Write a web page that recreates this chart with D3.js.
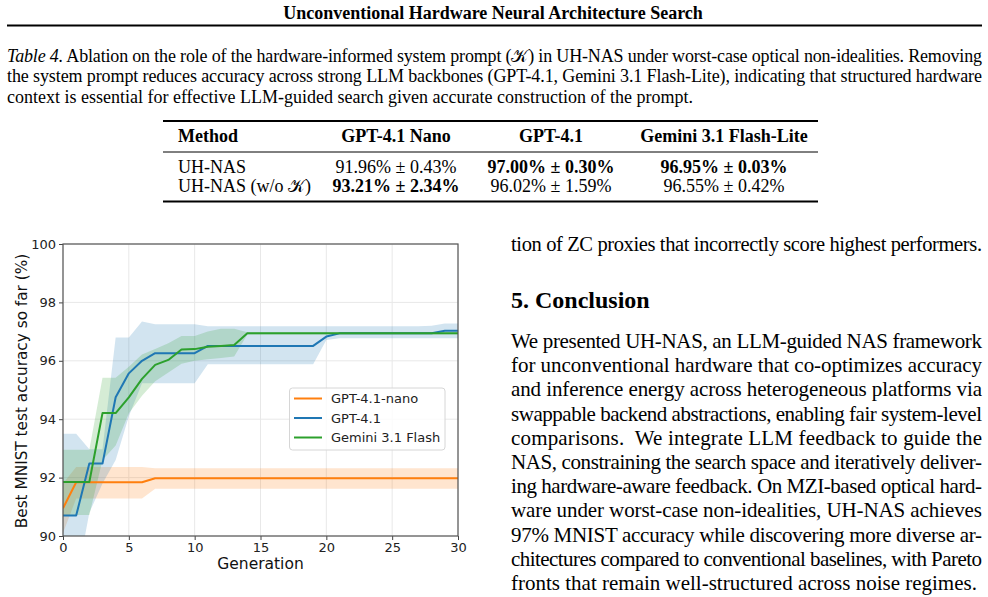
<!DOCTYPE html>
<html>
<head>
<meta charset="utf-8">
<script src="https://cdn.jsdelivr.net/npm/d3@7"></script>
<style>
  body { margin: 0; background: #fff; }
  svg { display: block; }
</style>
</head>
<body>
<script>
'use strict';

// generations on the x axis
const generations = [0,1,2,3,4,5,6,7,8,9,10,11,12,13,14,15,16,17,18,19,20,21,22,23,24,25,26,27,28,29,30];

// GPT-4.1-nano : mean best accuracy and shaded band
const nanoMean  = [90.95,91.84,91.84,91.84,91.84,91.84,91.84,91.98,91.98,91.98,91.98,91.98,91.98,91.98,91.98,91.98,91.98,91.98,91.98,91.98,91.98,91.98,91.98,91.98,91.98,91.98,91.98,91.98,91.98,91.98,91.98];
const nanoLower = [90.10,91.28,91.28,91.28,91.28,91.28,91.28,91.62,91.62,91.62,91.62,91.62,91.62,91.62,91.62,91.62,91.62,91.62,91.62,91.62,91.62,91.62,91.62,91.62,91.62,91.62,91.62,91.62,91.62,91.62,91.62];
const nanoUpper = [91.80,92.36,92.36,92.36,92.36,92.36,92.36,92.32,92.32,92.32,92.32,92.32,92.32,92.32,92.32,92.32,92.32,92.32,92.32,92.32,92.32,92.32,92.32,92.32,92.32,92.32,92.32,92.32,92.32,92.32,92.32];

// GPT-4.1
const gptMean  = [90.70,90.70,92.48,92.48,94.75,95.57,96.00,96.26,96.26,96.26,96.26,96.51,96.51,96.51,96.51,96.51,96.51,96.51,96.51,96.51,96.83,96.94,96.94,96.94,96.94,96.94,96.94,96.94,96.94,97.03,97.03];
const gptLower = [88.40,88.40,90.80,91.80,92.60,94.10,95.23,95.23,95.23,95.23,95.23,95.88,95.88,95.88,95.88,95.88,95.88,95.88,95.88,95.88,96.71,96.77,96.77,96.77,96.77,96.77,96.77,96.77,96.77,96.77,96.77];
const gptUpper = [93.50,93.50,92.97,92.97,96.80,96.80,97.35,97.25,97.25,97.25,97.25,97.18,97.18,97.18,97.18,97.18,97.18,97.18,97.18,97.18,97.18,97.18,97.18,97.18,97.18,97.18,97.18,97.18,97.20,97.28,97.28];

// Gemini 3.1 Flash
const gemMean  = [91.85,91.85,91.85,94.21,94.21,94.75,95.38,95.86,96.03,96.39,96.40,96.48,96.51,96.54,96.94,96.94,96.94,96.94,96.94,96.94,96.94,96.94,96.94,96.94,96.94,96.94,96.94,96.94,96.94,96.94,96.94];
const gemLower = [90.72,90.72,90.72,92.60,93.10,94.20,94.80,95.30,95.60,95.90,96.00,96.05,96.10,96.15,96.90,96.90,96.90,96.90,96.90,96.90,96.90,96.90,96.90,96.90,96.90,96.90,96.90,96.90,96.90,96.90,96.90];
const gemUpper = [92.95,92.95,92.95,95.42,95.42,95.80,96.22,96.40,96.60,96.85,96.85,97.00,97.10,97.10,96.98,96.98,96.98,96.98,96.98,96.98,96.98,96.98,96.98,96.98,96.98,96.98,96.98,96.98,96.98,96.98,96.98];

const seriesNames = ["GPT-4.1-nano", "GPT-4.1", "Gemini 3.1 Flash"];
const xTicks = [0, 5, 10, 15, 20, 25, 30];
const yTicks = [90, 92, 94, 96, 98, 100];

// table contents
const tableHeader = ["Method", "GPT-4.1 Nano", "GPT-4.1", "Gemini 3.1 Flash-Lite"];
const tableRow1 = ["UH-NAS", "91.96% ± 0.43%", "97.00% ± 0.30%", "96.95% ± 0.03%"];
const tableRow2 = ["UH-NAS (w/o 𝒦)", "93.21% ± 2.34%", "96.02% ± 1.59%", "96.55% ± 0.42%"];
const tableBold1 = [false, false, true, true];
const tableBold2 = [false, true, false, false];

// page text
const runningTitle = "Unconventional Hardware Neural Architecture Search";
const captionLines = [
  "Ablation on the role of the hardware-informed system prompt (𝒦) in UH-NAS under worst-case optical non-idealities. Removing",
  "the system prompt reduces accuracy across strong LLM backbones (GPT-4.1, Gemini 3.1 Flash-Lite), indicating that structured hardware",
  "context is essential for effective LLM-guided search given accurate construction of the prompt."
];
const bodyTop = "tion of ZC proxies that incorrectly score highest performers.";
const sectionTitle = "5. Conclusion";
const bodyLines = [
  "We presented UH-NAS, an LLM-guided NAS framework",
  "for unconventional hardware that co-optimizes accuracy",
  "and inference energy across heterogeneous platforms via",
  "swappable backend abstractions, enabling fair system-level",
  "comparisons.  We integrate LLM feedback to guide the",
  "NAS, constraining the search space and iteratively deliver-",
  "ing hardware-aware feedback. On MZI-based optical hard-",
  "ware under worst-case non-idealities, UH-NAS achieves",
  "97% MNIST accuracy while discovering more diverse ar-",
  "chitectures compared to conventional baselines, with Pareto",
  "fronts that remain well-structured across noise regimes."
];

(function() {
  const W = 988, H = 597;
  const serif = "'Liberation Serif', 'Times New Roman', serif";
  const sans = "'DejaVu Sans', sans-serif";

  const svg = d3.select('body').append('svg')
    .attr('width', W)
    .attr('height', H);

  svg.append('rect').attr('width', W).attr('height', H).attr('fill', '#fff');

  drawHeader();
  drawTable();
  drawChart();
  drawRightColumn();

  // running title and rule
  function drawHeader() {
    svg.append('text')
      .attr('x', 493).attr('y', 19)
      .attr('text-anchor', 'middle')
      .style('font-family', serif)
      .style('font-weight', 'bold')
      .style('font-size', '18px')
      .text(runningTitle);

    svg.append('line')
      .attr('x1', 7).attr('x2', 982)
      .attr('y1', 25.5).attr('y2', 25.5)
      .attr('stroke', '#000').attr('stroke-width', 2);

    // caption, justified except last line
    captionLines.forEach((line, i) => {
      let t = svg.append('text')
        .attr('x', 7).attr('y', 62 + i * 20.3)
        .style('font-family', serif)
        .style('font-size', '18px');
      if (i == 0) {
        t.append('tspan').style('font-style', 'italic').text('Table 4.');
        t.append('tspan').text(' ' + line);
      } else {
        t.text(line);
      }
      if (i < captionLines.length - 1) {
        t.attr('textLength', 975).attr('lengthAdjust', 'spacing');
      }
    });
  }

  function drawTable() {
    let colX = [178, 396, 551, 724];
    let left = 163, right = 818;

    svg.append('line').attr('x1', left).attr('x2', right)
      .attr('y1', 121).attr('y2', 121).attr('stroke', '#000').attr('stroke-width', 1.8);
    svg.append('line').attr('x1', left).attr('x2', right)
      .attr('y1', 152).attr('y2', 152).attr('stroke', '#000').attr('stroke-width', 1);
    svg.append('line').attr('x1', left).attr('x2', right)
      .attr('y1', 201.5).attr('y2', 201.5).attr('stroke', '#000').attr('stroke-width', 1.8);

    function row(cells, y, bold) {
      cells.forEach((c, i) => {
        svg.append('text')
          .attr('x', colX[i]).attr('y', y)
          .attr('text-anchor', i == 0 ? 'start' : 'middle')
          .style('font-family', serif)
          .style('font-size', '18px')
          .style('font-weight', bold[i] ? 'bold' : 'normal')
          .text(c);
      });
    }
    row(tableHeader, 142, [true, true, true, true]);
    row(tableRow1, 173, tableBold1);
    row(tableRow2, 192, tableBold2);
  }

  function drawChart() {
    let plot = {left: 63, right: 458, top: 244, bottom: 536};

    let xScale = d3.scaleLinear().domain([0, 30]).range([plot.left, plot.right]);
    let yScale = d3.scaleLinear().domain([90, 100]).range([plot.bottom, plot.top]);

    let g = svg.append('g');

    g.append('clipPath').attr('id', 'plotClip')
      .append('rect')
      .attr('x', plot.left).attr('y', plot.top)
      .attr('width', plot.right - plot.left)
      .attr('height', plot.bottom - plot.top);

    // grid
    g.selectAll('.gx').data(xTicks).enter().append('line')
      .attr('x1', (d) => xScale(d)).attr('x2', (d) => xScale(d))
      .attr('y1', plot.top).attr('y2', plot.bottom)
      .attr('stroke', '#e8e8e8').attr('stroke-width', 1);
    g.selectAll('.gy').data(yTicks).enter().append('line')
      .attr('x1', plot.left).attr('x2', plot.right)
      .attr('y1', (d) => yScale(d)).attr('y2', (d) => yScale(d))
      .attr('stroke', '#e8e8e8').attr('stroke-width', 1);

    let series = [
      {name: seriesNames[0], color: '#ff7f0e', mean: nanoMean, lo: nanoLower, hi: nanoUpper},
      {name: seriesNames[1], color: '#1f77b4', mean: gptMean, lo: gptLower, hi: gptUpper},
      {name: seriesNames[2], color: '#2ca02c', mean: gemMean, lo: gemLower, hi: gemUpper}
    ];

    let clipped = g.append('g').attr('clip-path', 'url(#plotClip)');

    // shaded bands first, lines on top
    series.forEach((s) => {
      let area = d3.area()
        .x((d, i) => xScale(generations[i]))
        .y0((d, i) => yScale(s.lo[i]))
        .y1((d, i) => yScale(s.hi[i]));
      clipped.append('path')
        .datum(s.mean)
        .attr('d', area)
        .attr('fill', s.color)
        .attr('fill-opacity', 0.2);
    });

    series.forEach((s) => {
      let line = d3.line()
        .x((d, i) => xScale(generations[i]))
        .y((d) => yScale(d));
      clipped.append('path')
        .datum(s.mean)
        .attr('d', line)
        .attr('fill', 'none')
        .attr('stroke', s.color)
        .attr('stroke-width', 2)
        .attr('stroke-linejoin', 'round');
    });

    // axes
    let xAxis = d3.axisBottom(xScale).tickValues(xTicks).tickSize(4).tickPadding(3);
    let yAxis = d3.axisLeft(yScale).tickValues(yTicks).tickSize(4).tickPadding(3);

    let xg = g.append('g').attr('transform', 'translate(0,' + plot.bottom + ')').call(xAxis);
    let yg = g.append('g').attr('transform', 'translate(' + plot.left + ',0)').call(yAxis);
    [xg, yg].forEach((a) => {
      a.select('.domain').remove();
      a.selectAll('line').attr('stroke', '#444');
      a.selectAll('text')
        .style('font-family', sans)
        .style('font-size', '13px')
        .attr('fill', '#222');
    });

    // frame
    g.append('rect')
      .attr('x', plot.left).attr('y', plot.top)
      .attr('width', plot.right - plot.left)
      .attr('height', plot.bottom - plot.top)
      .attr('fill', 'none')
      .attr('stroke', '#555')
      .attr('stroke-width', 1.2);

    // labels
    g.append('text')
      .attr('x', 260.5).attr('y', 569)
      .attr('text-anchor', 'middle')
      .style('font-family', sans)
      .style('font-size', '15.5px')
      .attr('fill', '#111')
      .text('Generation');

    g.append('text')
      .attr('transform', 'translate(26.5, 391)rotate(-90)')
      .attr('text-anchor', 'middle')
      .style('font-family', sans)
      .style('font-size', '15.3px')
      .attr('fill', '#111')
      .text('Best MNIST test accuracy so far (%)');

    // legend
    let lg = g.append('g');
    lg.append('rect')
      .attr('x', 289.5).attr('y', 388)
      .attr('width', 155.5).attr('height', 62)
      .attr('rx', 3)
      .attr('fill', '#fff').attr('fill-opacity', 0.8)
      .attr('stroke', '#d6d6d6');
    series.forEach((s, i) => {
      let yy = 398.5 + i * 19.5;
      lg.append('line')
        .attr('x1', 294).attr('x2', 322)
        .attr('y1', yy).attr('y2', yy)
        .attr('stroke', s.color).attr('stroke-width', 2);
      lg.append('text')
        .attr('x', 331).attr('y', yy)
        .attr('dy', '0.35em')
        .style('font-family', sans)
        .style('font-size', '13px')
        .attr('fill', '#222')
        .text(s.name);
    });
  }

  function drawRightColumn() {
    let x0 = 511, width = 471;

    svg.append('text')
      .attr('x', x0).attr('y', 251)
      .attr('textLength', width).attr('lengthAdjust', 'spacing')
      .style('font-family', serif)
      .style('font-size', '20.5px')
      .text(bodyTop);

    svg.append('text')
      .attr('x', x0).attr('y', 308)
      .style('font-family', serif)
      .style('font-weight', 'bold')
      .style('font-size', '24px')
      .text(sectionTitle);

    bodyLines.forEach((line, i) => {
      let t = svg.append('text')
        .attr('x', x0).attr('y', 348 + i * 24.2)
        .style('font-family', serif)
        .style('font-size', '21px')
        .style('white-space', 'pre')
        .text(line);
      if (i < bodyLines.length - 1) {
        t.attr('textLength', width).attr('lengthAdjust', 'spacing');
      }
    });
  }
})();
</script>
</body>
</html>
